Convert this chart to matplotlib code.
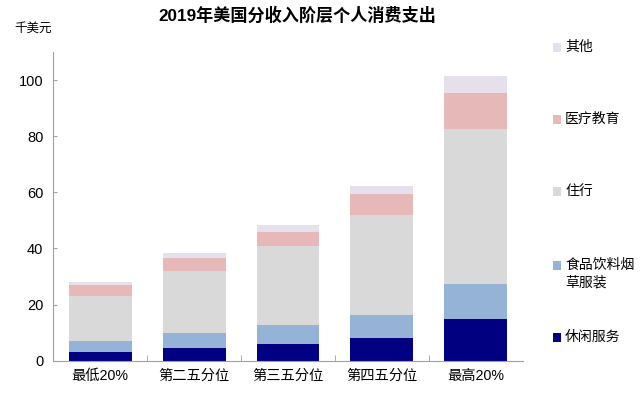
import numpy as np
import matplotlib
matplotlib.use('Agg')
import matplotlib.pyplot as plt
from matplotlib.patches import Rectangle

plt.rcParams['font.family'] = ['Liberation Sans', 'Noto Sans CJK SC', 'DejaVu Sans']

categories = ['最低20%', '第二五分位', '第三五分位', '第四五分位', '最高20%']
series_names = ['休闲服务', '食品饮料烟\n草服装', '住行', '医疗教育', '其他']
leisure = [3.0, 4.5, 5.9, 8.1, 15.0]
food_clothing = [3.9, 5.5, 6.8, 8.3, 12.2]
housing_transport = [16.1, 22.0, 28.0, 35.6, 55.3]
health_edu = [3.9, 4.7, 5.3, 7.4, 12.8]
other = [1.0, 1.7, 2.4, 2.9, 6.1]
colors = ['#000080', '#95B3D7', '#D9D9D9', '#E6B9B8', '#E6E0EC']

series = [leisure, food_clothing, housing_transport, health_edu, other]

fig = plt.figure(figsize=(6.4, 3.98), dpi=100)
ax = fig.add_axes([0.083, 0.094, 0.734, 0.775])

x = np.arange(len(categories))
bottom = np.zeros(len(categories))
for vals, c in zip(series, colors):
    ax.bar(x, vals, 0.67, bottom=bottom, color=c, linewidth=0)
    bottom += np.array(vals)

ax.set_xlim(-0.5, 4.5)
ax.set_ylim(0, 110)
ax.set_yticks([0, 20, 40, 60, 80, 100])
ax.set_xticks(x)
ax.set_xticklabels(categories, fontsize=10.3)
ax.set_xticks(np.arange(0.5, 4.5, 1), minor=True)
ax.tick_params(axis='x', which='major', length=0, pad=6)
ax.tick_params(axis='x', which='minor', direction='in', length=4, color='#A0A0A0')
ax.tick_params(axis='y', direction='in', length=3, color='#A0A0A0', labelsize=10.5, pad=7)
for s in ['top', 'right']:
    ax.spines[s].set_visible(False)
for s in ['left', 'bottom']:
    ax.spines[s].set_color('#A0A0A0')

fig.text(0.465, 0.962, '2019年美国分收入阶层个人消费支出', ha='center', va='center',
         fontsize=12.3, fontweight='bold')
fig.text(0.022, 0.928, '千美元', ha='left', va='center', fontsize=9)

# legend, drawn by hand to match spacing
leg_y = [337, 274, 191, 119, 47]
for name, c, yp in zip(series_names, colors, leg_y):
    yf = 1 - yp / 398
    lines = name.count('\n') + 1
    top_y = yf + (lines - 1) * 0.0225
    fig.patches.append(Rectangle((553 / 640, top_y - 0.013), 0.0125, 0.024,
                                 transform=fig.transFigure, color=c, linewidth=0))
    fig.text(565 / 640, yf, name, ha='left', va='center', fontsize=10, linespacing=1.3)

fig.savefig('out.png', dpi=100)
